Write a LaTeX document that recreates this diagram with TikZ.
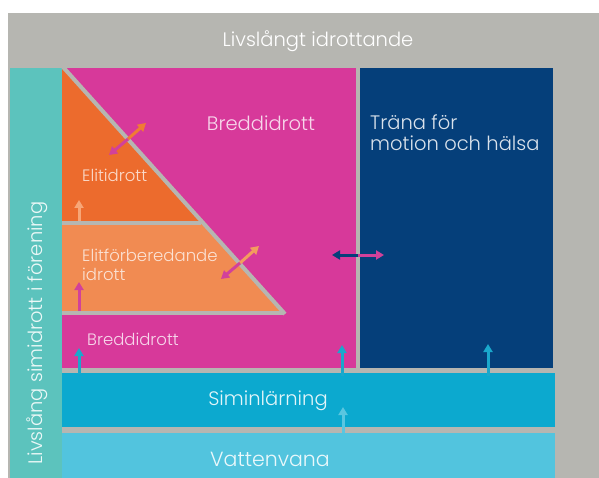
\documentclass[tikz,border=0pt]{standalone}
\usepackage{fontspec}
\setmainfont{Poppins Light}
\usetikzlibrary{arrows.meta}
\definecolor{bggray}{HTML}{B6B6B1}
\definecolor{tealbar}{HTML}{5CC3BD}
\definecolor{pinkreg}{HTML}{D7399A}
\definecolor{darkor}{HTML}{EC6B2D}
\definecolor{lightor}{HTML}{F18B52}
\definecolor{navyreg}{HTML}{053F7A}
\definecolor{cyanbar}{HTML}{0CA9CF}
\definecolor{vatten}{HTML}{52C4DE}
\definecolor{peach}{HTML}{F7A677}
\definecolor{arrpink}{HTML}{D2419A}
\definecolor{arrcyan}{HTML}{1AA8CC}
\definecolor{arrlcyan}{HTML}{5AC6E0}
\definecolor{arror}{HTML}{F07B34}
\definecolor{arrlor}{HTML}{F39C5E}
\begin{document}
\begin{tikzpicture}[x=1pt,y=-1pt,
  region/.style={fill=#1,draw=none},
  sep/.style={draw=bggray,line width=4pt},
  lbl/.style={text=#1,inner sep=0pt,font=\fontsize{19.5}{21}\selectfont},
  slbl/.style={text=#1,inner sep=0pt,align=left,font=\fontsize{16.5}{19.5}\selectfont},
  arr/.style={draw=#1,line width=3pt,-{Triangle[length=8pt,width=9pt]}}]
\useasboundingbox (0,0) rectangle (599,478);
% background and regions
\fill[region=bggray] (8,13) rectangle (599,478);
\fill[region=tealbar] (10,68) rectangle (62,478);
\fill[region=pinkreg] (62,68) rectangle (356,368);
\fill[region=navyreg] (360,68) rectangle (553,368);
\fill[region=cyanbar] (62,373) rectangle (555,427);
\fill[region=vatten] (62,433) rectangle (555,478);
% pyramid
\fill[region=lightor] (62,68) -- (283,313) -- (62,313) -- cycle;
\fill[region=darkor] (62,68) -- (201,223) -- (62,223) -- cycle;
\draw[sep] (63,67) -- (285,314);
\draw[sep] (62,223) -- (201,223);
\draw[sep] (62,313) -- (284,313);
% labels
\node[lbl=white] (top) at (318,41) {Livslångt idrottande};
\node[lbl=white!88!tealbar,rotate=90] (side) at (37,333) {Livslång simidrott i förening};
\node[lbl=white!80!pinkreg] (bredd) at (261,123) {Breddidrott};
\node[lbl=white!85!navyreg,anchor=north west,align=left] (trana) at (370,115) {Träna för\\motion och hälsa};
\node[slbl=white!75!darkor,anchor=west] (elit) at (82,175) {Elitidrott};
\node[slbl=white!75!lightor,anchor=west] (elitf) at (82,265) {Elitförberedande\\idrott};
\node[slbl=white!80!pinkreg,anchor=west] (bredd2) at (87,339) {Breddidrott};
\node[lbl=white!88!cyanbar] (simin) at (268,401) {Siminlärning};
\node[lbl=white!88!vatten,font=\fontsize{20.5}{21}\selectfont] (vattn) at (270,459) {Vattenvana};
% arrow coordinates
\coordinate (d1m) at (128,139); \coordinate (d1a) at (146,123); \coordinate (d1b) at (109,155);
\coordinate (d2m) at (240,263); \coordinate (d2a) at (259,246); \coordinate (d2b) at (221,279);
\coordinate (d3m) at (358,255); \coordinate (d3a) at (384,255); \coordinate (d3b) at (332,255);
% double arrows
\draw[arr=arror] (d1m) -- (d1a);
\draw[arr=arrpink] (d1m) -- (d1b);
\draw[arr=arrlor] (d2m) -- (d2a);
\draw[arr=arrpink] (d2m) -- (d2b);
\draw[arr=arrpink] (d3m) -- (d3a);
\draw[arr=navyreg] (d3m) -- (d3b);
% up arrows
\coordinate (u1a) at (79,221); \coordinate (u1b) at (79,200);
\coordinate (u2a) at (79,311); \coordinate (u2b) at (79,282);
\coordinate (u3a) at (79,374); \coordinate (u3b) at (79,348);
\coordinate (u4a) at (342,376); \coordinate (u4b) at (342,345);
\coordinate (u5a) at (488,376); \coordinate (u5b) at (488,344);
\coordinate (u6a) at (343,433); \coordinate (u6b) at (343,407);
\draw[arr=peach] (u1a) -- (u1b);
\draw[arr=arrpink] (u2a) -- (u2b);
\draw[arr=arrcyan] (u3a) -- (u3b);
\draw[arr=arrcyan] (u4a) -- (u4b);
\draw[arr=arrcyan] (u5a) -- (u5b);
\draw[arr=arrlcyan] (u6a) -- (u6b);
\end{tikzpicture}
\end{document}
